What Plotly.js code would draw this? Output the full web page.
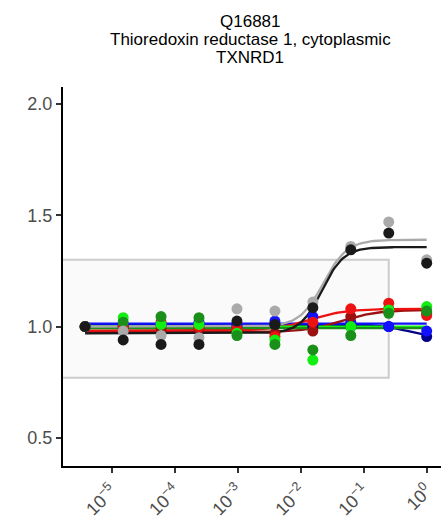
<!DOCTYPE html>
<html>
<head>
<meta charset="utf-8">
<script src="https://cdn.plot.ly/plotly-3.0.1.min.js"></script>
<style>html,body{margin:0;padding:0;background:#fff;}#chart{width:441px;height:528px;}</style>
</head>
<body>
<div id="chart"></div>
<script>
// Concentrations (dilution series, 4-fold)
const concentrations = [3.81e-6, 1.53e-5, 6.10e-5, 2.44e-4, 9.77e-4, 3.91e-3, 1.5625e-2, 6.25e-2, 0.25, 1];

// Series names and colours
const seriesNames = ["darkblue", "blue", "darkred", "red", "green", "darkgreen", "gray", "black"];
const seriesColors = ["#00008b", "#1111ff", "#9b1111", "#ee1111", "#11ee11", "#1a8f1a", "#aaaaaa", "#1a1a1a"];

const valDarkBlue  = [1.00, 1.00, 1.01, 1.01, 1.00, 1.01, 1.00, 1.00, 1.00, 0.955];
const valBlue      = [1.00, 1.01, 1.01, 1.02, 1.01, 1.025, 1.045, 1.02, 1.00, 0.98];
const valDarkRed   = [1.00, 0.99, 0.99, 0.99, 0.98, 0.97, 0.98, 1.045, 1.08, 1.06];
const valRed       = [1.00, 1.00, 1.02, 1.00, 0.99, 0.955, 1.02, 1.08, 1.105, 1.05];
const valGreen     = [1.00, 1.04, 1.01, 1.01, 0.97, 0.94, 0.85, 1.00, 1.075, 1.09];
const valDarkGreen = [1.00, 1.02, 1.045, 1.04, 0.96, 0.92, 0.895, 0.96, 1.06, 1.07];
const valGray      = [1.00, 0.98, 0.96, 0.95, 1.08, 1.07, 1.11, 1.36, 1.47, 1.30];
const valBlack     = [1.00, 0.94, 0.92, 0.92, 1.025, 1.01, 1.085, 1.345, 1.42, 1.285];
const seriesValues = [valDarkBlue, valBlue, valDarkRed, valRed, valGreen, valDarkGreen, valGray, valBlack];

// Fitted dose-response parameters (4-parameter logistic) per series
const fitBottom = [1.010, 1.013, 0.975, 0.982, 1.000, 0.993, 1.000, 0.970];
const fitTop    = [0.950, 1.013, 1.075, 1.080, 1.000, 0.993, 1.390, 1.357];
const fitLogEC50 = [-0.30, -1.0, -1.35, -1.85, -1.0, -1.0, -1.64, -1.66];
const fitHill   = [2.0, 1.0, 1.5, 1.5, 1.0, 1.0, 2.3, 2.5];

// tick labels
const yTickVals = [0.5, 1.0, 1.5, 2.0];
const yTickText = ["0.5", "1.0", "1.5", "2.0"];
const xTickVals = [-5, -4, -3, -2, -1, 0];
const xTickText = ["10<sup>\u22125</sup>", "10<sup>\u22124</sup>", "10<sup>\u22123</sup>", "10<sup>\u22122</sup>", "10<sup>\u22121</sup>", "10<sup>0</sup>"];

const titleLines = ["Q16881", "Thioredoxin reductase 1, cytoplasmic", "TXNRD1"];

const logX = concentrations.map(c => Math.log10(c));
const xmin = logX[0], xmax = logX[logX.length - 1];
const curveX = [];
for (let i = 0; i <= 200; i++) curveX.push(xmin + (xmax - xmin) * i / 200);

const traces = [];
// curves first
seriesNames.forEach((n, s) => {
  const cy = curveX.map(x => fitBottom[s] + (fitTop[s] - fitBottom[s]) / (1 + Math.pow(10, fitHill[s] * (fitLogEC50[s] - x))));
  traces.push({x: curveX, y: cy, mode: "lines", type: "scatter", line: {color: seriesColors[s], width: 2.3}, hoverinfo: "skip", showlegend: false});
});
// points on top
seriesNames.forEach((n, s) => {
  traces.push({x: logX, y: seriesValues[s], mode: "markers", type: "scatter", name: n, marker: {color: seriesColors[s], size: 11}, showlegend: false});
});

const font = "Liberation Sans, Arial, sans-serif";
const pxToPaperY = py => 1 + (87 - py) / 379;
const pxToPaperX = px => (px - 63) / 378;
const titleY = [21.5, 39.5, 57.5];

const layout = {
  width: 441, height: 528,
  margin: {l: 63, r: 0, t: 87, b: 62},
  paper_bgcolor: "#fff", plot_bgcolor: "#fff",
  showlegend: false,
  font: {family: font, color: "#4d4d4d", size: 18},
  xaxis: {
    range: [-5.77, 0.227], showgrid: false, zeroline: false,
    showline: true, linecolor: "#000", linewidth: 2.2,
    ticks: "outside", ticklen: 5, tickwidth: 2, tickcolor: "#333",
    tickvals: xTickVals, ticktext: xTickText, tickangle: -45,
    tickfont: {family: font, size: 18, color: "#4d4d4d"}
  },
  yaxis: {
    range: [0.374, 2.076], showgrid: false, zeroline: false,
    showline: true, linecolor: "#000", linewidth: 2.2,
    ticks: "outside", ticklen: 5, tickwidth: 2, tickcolor: "#333",
    tickvals: yTickVals, ticktext: yTickText,
    tickfont: {family: font, size: 18, color: "#4d4d4d"}
  },
  shapes: [{
    type: "rect", xref: "x", yref: "y", layer: "below",
    x0: -6.0, x1: Math.log10(0.25), y0: 0.77, y1: 1.30,
    fillcolor: "#fafafa", line: {color: "#cccccc", width: 2}
  }],
  annotations: titleLines.map((t, i) => ({
    text: t, xref: "paper", yref: "paper", x: pxToPaperX(250), y: pxToPaperY(titleY[i]),
    xanchor: "center", yanchor: "middle", showarrow: false,
    font: {family: font, size: 17, color: "#000"}
  }))
};

Plotly.newPlot("chart", traces, layout, {staticPlot: true, displayModeBar: false});
</script>
</body>
</html>
